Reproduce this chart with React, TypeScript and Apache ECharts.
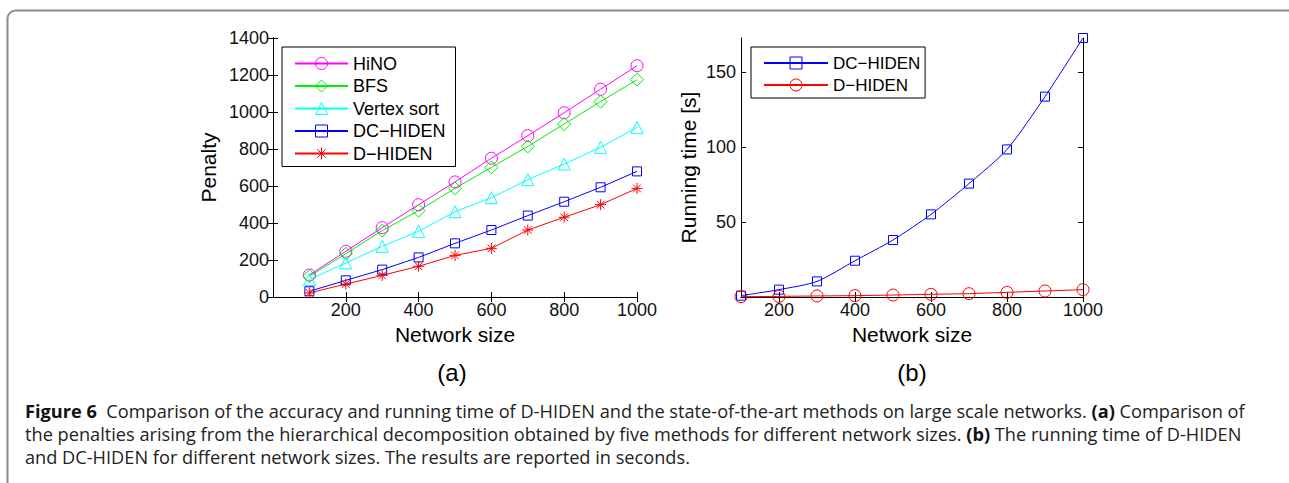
import { useEffect, useRef } from 'react';
import * as echarts from 'echarts';

const networkSizes = [100, 200, 300, 400, 500, 600, 700, 800, 900, 1000];
const hinoPenalty = [119, 247, 375, 499, 622, 750, 872, 996, 1123, 1250];
const bfsPenalty = [112, 234, 359, 467, 587, 701, 814, 935, 1056, 1175];
const vertexSortPenalty = [94, 184, 274, 355, 461, 537, 634, 719, 809, 917];
const dcHidenPenalty = [31, 90, 148, 214, 290, 362, 440, 515, 593, 679];
const dHidenPenalty = [22, 70, 117, 166, 225, 263, 362, 431, 499, 587];
const dcHidenTime = [0.9, 4.9, 10.4, 24.2, 38, 55.1, 75.6, 98.4, 133.6, 172.7];
const dHidenTime = [0.2, 0.4, 0.7, 0.9, 1.3, 1.8, 2.2, 3.1, 4.0, 4.9];
const sizeTickLabels = [200, 400, 600, 800, 1000];
const timeTickLabels = [50, 100, 150];

const captionLines = [
  '{b|Figure 6}  Comparison of the accuracy and running time of D-HIDEN and the state-of-the-art methods on large scale networks. {b|(a)} Comparison of',
  'the penalties arising from the hierarchical decomposition obtained by five methods for different network sizes. {b|(b)} The running time of D-HIDEN',
  'and DC-HIDEN for different network sizes. The results are reported in seconds.',
];

const FONT = '"Liberation Sans", Arial, Helvetica, sans-serif';
const CAP_FONT = '"Open Sans", "Noto Sans", sans-serif';
const ASTERISK = 'path://M0,5L10,5M5,0L5,10M1.5,1.5L8.5,8.5M1.5,8.5L8.5,1.5';

function pairs(ys: number[]) {
  return networkSizes.map((x, i) => [x, ys[i]]);
}

function lineSeries(name: string, ys: number[], color: string, symbol: string, size: number, idx: number, extra: any = {}) {
  return {
    type: 'line',
    name,
    xAxisIndex: idx,
    yAxisIndex: idx,
    data: pairs(ys),
    symbol,
    symbolSize: size,
    showAllSymbol: true,
    lineStyle: { color, width: 1 },
    itemStyle: { color: 'rgba(255,255,255,0)', borderColor: color, borderWidth: 1 },
    emphasis: { disabled: true },
    z: 3,
    ...extra,
  };
}

export default function App() {
  const ref = useRef<HTMLDivElement>(null);
  useEffect(() => {
    document.body.style.margin = '0';
    const chart = echarts.init(ref.current!, null, { renderer: 'svg' });
    const axisBase = {
      axisLine: { show: true, lineStyle: { color: '#000', width: 1 } },
      splitLine: { show: false },
    };
    const fmt = (v: number) => String(v);
    const labelStyle = { color: '#111', fontSize: 18, fontFamily: FONT, formatter: fmt };
    const nameStyle = { color: '#000', fontSize: 21, fontFamily: FONT };
    const tick = (custom?: number[]) => ({
      show: true,
      inside: true,
      length: 5,
      lineStyle: { color: '#000', width: 1 },
      ...(custom ? { customValues: custom } : {}),
    });

    const option: any = {
      animation: false,
      backgroundColor: '#fff',
      grid: [
        { left: 273, top: 38, width: 364, height: 259, show: false },
        { left: 741, top: 38, width: 342, height: 259, show: false },
      ],
      xAxis: [
        {
          ...axisBase, type: 'value', gridIndex: 0, min: 0, max: 1000, interval: 200, position: 'bottom',
          axisTick: tick(sizeTickLabels),
          axisLabel: { ...labelStyle, margin: 4, customValues: sizeTickLabels },
          name: 'Network size', nameLocation: 'middle', nameGap: 27, nameTextStyle: nameStyle,
        },
        {
          ...axisBase, type: 'value', gridIndex: 1, min: 100, max: 1000, position: 'bottom',
          axisTick: tick(sizeTickLabels),
          axisLabel: { ...labelStyle, margin: 4, customValues: sizeTickLabels },
          name: 'Network size', nameLocation: 'middle', nameGap: 27, nameTextStyle: nameStyle,
        },
        {
          ...axisBase, type: 'value', gridIndex: 0, min: 0, max: 1000, interval: 200, position: 'top',
          axisTick: tick(sizeTickLabels), axisLabel: { show: false },
        },
        {
          ...axisBase, type: 'value', gridIndex: 1, min: 100, max: 1000, position: 'top',
          axisTick: tick(sizeTickLabels), axisLabel: { show: false },
        },
      ],
      yAxis: [
        {
          ...axisBase, type: 'value', gridIndex: 0, min: 0, max: 1400, interval: 200, position: 'left',
          axisTick: tick(), axisLabel: { ...labelStyle, margin: 4 },
          name: 'Penalty', nameLocation: 'middle', nameGap: 54, nameRotate: 90, nameTextStyle: nameStyle,
        },
        {
          ...axisBase, type: 'value', gridIndex: 1, min: 0, max: 172.7, position: 'left',
          axisTick: tick(timeTickLabels), axisLabel: { ...labelStyle, margin: 5, customValues: timeTickLabels },
          name: 'Running time [s]', nameLocation: 'middle', nameGap: 42, nameRotate: 90, nameTextStyle: nameStyle,
        },
        {
          ...axisBase, type: 'value', gridIndex: 0, min: 0, max: 1400, interval: 200, position: 'right',
          axisTick: tick(), axisLabel: { show: false },
        },
        {
          ...axisBase, type: 'value', gridIndex: 1, min: 0, max: 172.7, position: 'right',
          axisTick: tick(timeTickLabels), axisLabel: { show: false },
        },
      ],
      legend: [
        {
          data: ['HiNO', 'BFS', 'Vertex sort', 'DC\u2212HIDEN', 'D\u2212HIDEN'],
          orient: 'vertical', left: 282, top: 47,
          padding: [7.5, 10, 4, 12],
          itemWidth: 53, itemHeight: 15, itemGap: 4.5,
          borderColor: '#000', borderWidth: 1, backgroundColor: '#fff',
          textStyle: { color: '#000', fontSize: 18, fontFamily: FONT },
          itemStyle: { borderWidth: 1 },
          selectedMode: false,
        },
        {
          data: ['DC\u2212HIDEN ', 'D\u2212HIDEN '],
          orient: 'vertical', left: 751, top: 47,
          padding: [7.5, 0, 4.5, 12],
          itemWidth: 64, itemHeight: 15, itemGap: 5,
          borderColor: '#000', borderWidth: 1, backgroundColor: '#fff',
          textStyle: { color: '#000', fontSize: 17, fontFamily: FONT },
          itemStyle: { borderWidth: 1 },
          selectedMode: false,
        },
      ],
      series: [
        lineSeries('HiNO', hinoPenalty, '#ff00ff', 'circle', 12, 0),
        lineSeries('BFS', bfsPenalty, '#00ee00', 'diamond', 13, 0),
        lineSeries('Vertex sort', vertexSortPenalty, '#00ffff', 'triangle', 12, 0),
        lineSeries('DC\u2212HIDEN', dcHidenPenalty, '#0000ff', 'rect', 9, 0),
        lineSeries('D\u2212HIDEN', dHidenPenalty, '#ff0000', ASTERISK, 11, 0),
        lineSeries('DC\u2212HIDEN ', dcHidenTime, '#0000ff', 'rect', 9, 1, { smooth: 0.25 }),
        lineSeries('D\u2212HIDEN ', dHidenTime, '#ff0000', 'circle', 12, 1),
      ],
      graphic: [
        {
          type: 'rect', silent: true, z: 0,
          shape: { x: 7.5, y: 10.5, width: 1400, height: 600, r: [8, 0, 0, 0] },
          style: { fill: 'none', stroke: '#8c8c8c', lineWidth: 2 },
        },
        {
          type: 'text', x: 452, y: 372,
          style: { text: '(a)', fontSize: 24, fontFamily: FONT, fill: '#000', align: 'center', verticalAlign: 'middle' },
        },
        {
          type: 'text', x: 912, y: 372,
          style: { text: '(b)', fontSize: 24, fontFamily: FONT, fill: '#000', align: 'center', verticalAlign: 'middle' },
        },
        ...captionLines.map((t, i) => ({
          type: 'text', x: 25, y: 411 + i * 23,
          style: {
            text: t, fontSize: 18.2, fontFamily: CAP_FONT, fill: '#222',
            align: 'left', verticalAlign: 'middle',
            rich: { b: { fontWeight: 'bold', fontSize: 18.2, fontFamily: CAP_FONT, fill: '#111' } },
          },
        })),
      ],
    };
    chart.setOption(option);
    return () => chart.dispose();
  }, []);
  return <div ref={ref} style={{ width: 1289, height: 483 }} />;
}
